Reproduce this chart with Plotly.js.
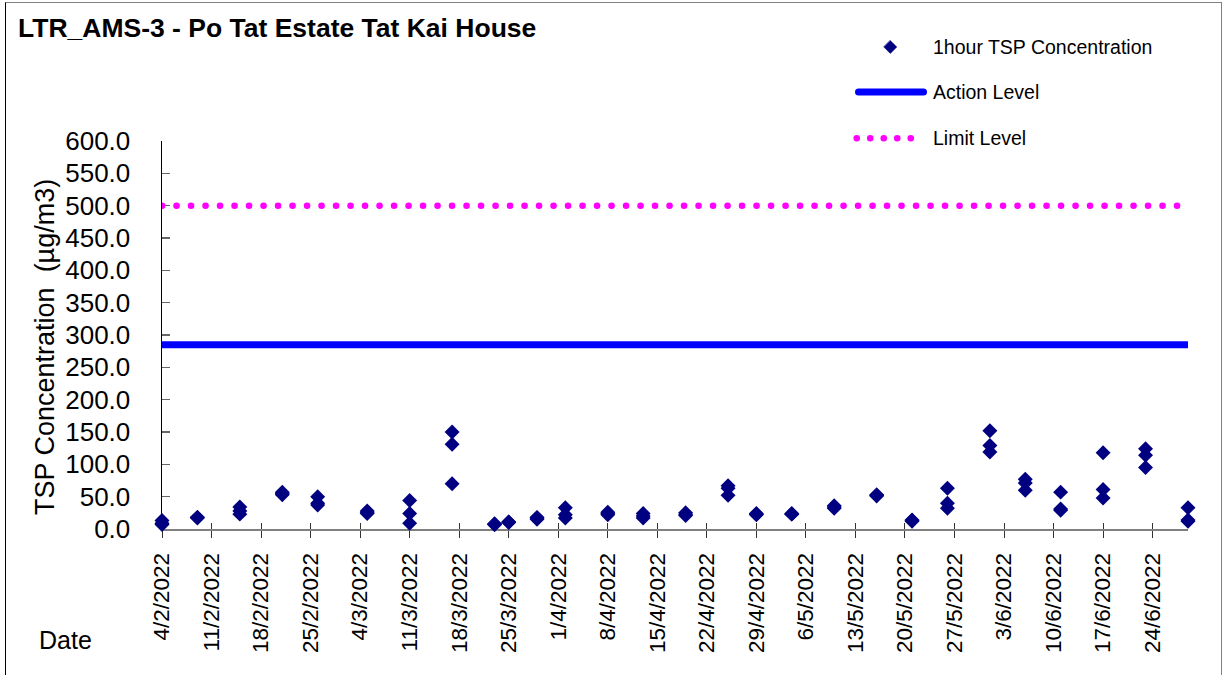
<!DOCTYPE html>
<html>
<head>
<meta charset="utf-8">
<script src="https://cdn.plot.ly/plotly-3.0.1.min.js"></script>
<style>
  html, body { margin: 0; padding: 0; background: #fff; }
  #chart { width: 1225px; height: 675px; position: relative; }
  #frame { position: absolute; left: 5px; top: 2px; width: 1217px; height: 700px;
           border-left: 1px solid #000; border-top: 1px solid #808080; border-right: 1px solid #808080;
           pointer-events: none; box-sizing: border-box; }
  .js-line { stroke-linecap: round !important; }
  .shapelayer path { stroke-linecap: round !important; }
</style>
</head>
<body>
<div id="chart"></div>
<div id="frame"></div>
<script>
// ---- data ----
const sampleDates = ['2022-02-04','2022-02-09','2022-02-15','2022-02-21','2022-02-26','2022-03-05','2022-03-11',
  '2022-03-17','2022-03-23','2022-03-25','2022-03-29','2022-04-02','2022-04-08','2022-04-13','2022-04-19',
  '2022-04-25','2022-04-29','2022-05-04','2022-05-10','2022-05-16','2022-05-21','2022-05-26','2022-06-01',
  '2022-06-06','2022-06-11','2022-06-17','2022-06-23','2022-06-29'];
const tspReading1 = [13,18,34,57,50,28,44,150,8,11,18,33,26,24,25,67,24,24,36,53,14,63,152,77,57,118,124,33];
const tspReading2 = [9,18,28,55,40,26,24,131,7,11,17,22,24,20,23,63,23,23,34,52,13,40,129,71,31,61,114,14];
const tspReading3 = [7,17,23,53,37,24,9,70,7,10,15,17,22,17,21,52,22,23,32,51,12,32,119,60,29,48,95,12];

const levelDates = ['2022-02-04','2022-06-29'];
const actionLevel = [285, 285];
const limitLevel = [500, 500];

const tickDates = ['2022-02-04','2022-02-11','2022-02-18','2022-02-25','2022-03-04','2022-03-11','2022-03-18',
  '2022-03-25','2022-04-01','2022-04-08','2022-04-15','2022-04-22','2022-04-29','2022-05-06','2022-05-13',
  '2022-05-20','2022-05-27','2022-06-03','2022-06-10','2022-06-17','2022-06-24'];
const tickLabels = ['4/2/2022','11/2/2022','18/2/2022','25/2/2022','4/3/2022','11/3/2022','18/3/2022',
  '25/3/2022','1/4/2022','8/4/2022','15/4/2022','22/4/2022','29/4/2022','6/5/2022','13/5/2022',
  '20/5/2022','27/5/2022','3/6/2022','10/6/2022','17/6/2022','24/6/2022'];

// ---- build ----
const ptX = [], ptY = [];
sampleDates.forEach((d, i) => {
  [tspReading1[i], tspReading2[i], tspReading3[i]].forEach(v => { ptX.push(d); ptY.push(v); });
});

const FONT = 'Arial, "Liberation Sans", sans-serif';
const L = 162, R = 37, T = 141, B = 146;
const PW = 1225 - L - R, PH = 675 - T - B;
const px = x => (x - L) / PW;
const py = y => (675 - B - y) / PH;

const traces = [
  { x: levelDates, y: limitLevel, mode: 'lines', name: 'Limit Level', hoverinfo: 'skip',
    line: { color: '#FF00FF', width: 6.5, dash: '0.1px,14.4px' } },
  { x: levelDates, y: actionLevel, mode: 'lines', name: 'Action Level', hoverinfo: 'skip',
    line: { color: '#0000FF', width: 7 } },
  { x: ptX, y: ptY, mode: 'markers', name: '1hour TSP Concentration', cliponaxis: false,
    marker: { symbol: 'diamond', size: 11.5, color: '#000080' } },
  { x: levelDates, y: actionLevel, xaxis: 'x2', mode: 'lines', opacity: 0, hoverinfo: 'skip',
    showlegend: false, line: { width: 0 } }
];

function diamond(cx, cy, r) {
  return `M${px(cx)},${py(cy - r)} L${px(cx + r)},${py(cy)} L${px(cx)},${py(cy + r)} L${px(cx - r)},${py(cy)} Z`;
}

const shapes = [
  { type: 'path', xref: 'paper', yref: 'paper', path: diamond(890.3, 47, 6.5),
    fillcolor: '#000080', line: { color: '#000080', width: 0.5 } },
  { type: 'line', xref: 'paper', yref: 'paper', x0: px(858.5), x1: px(923.5), y0: py(92), y1: py(92),
    line: { color: '#0000FF', width: 7 } },
  { type: 'line', xref: 'paper', yref: 'paper', x0: px(856.7), x1: px(910.8), y0: py(138.3), y1: py(138.3),
    line: { color: '#FF00FF', width: 6.5, dash: '0.1px,13.4px' } }
];

const annotations = [
  { text: '1hour TSP Concentration', x: px(931), y: py(47) },
  { text: 'Action Level', x: px(931), y: py(92) },
  { text: 'Limit Level', x: px(931), y: py(138) }
].map(a => Object.assign(a, { xref: 'paper', yref: 'paper', xanchor: 'left', yanchor: 'middle',
  showarrow: false, font: { family: FONT, size: 19.5, color: '#000' } }));

annotations.push({ text: 'TSP Concentration\u00a0 (µg/m3)', textangle: -90, xref: 'paper', yref: 'paper',
  x: px(45), y: py(347), xanchor: 'center', yanchor: 'middle', showarrow: false,
  font: { family: FONT, size: 27, color: '#000' } });
annotations.push({ text: 'Date', xref: 'paper', yref: 'paper', x: px(65), y: py(640),
  xanchor: 'center', yanchor: 'middle', showarrow: false, font: { family: FONT, size: 25, color: '#000' } });

const layout = {
  width: 1225, height: 675,
  margin: { l: L, r: R, t: T, b: B, pad: 0 },
  paper_bgcolor: '#fff', plot_bgcolor: '#fff',
  showlegend: false,
  font: { family: FONT, color: '#000' },
  title: { text: '<b>LTR_AMS-3 - Po Tat Estate Tat Kai House</b>', xref: 'container', yref: 'container',
    x: 18 / 1225, xanchor: 'left', y: 1 - 28 / 675, yanchor: 'middle',
    font: { family: FONT, size: 26.5, color: '#000' } },
  xaxis: {
    type: 'date', range: ['2022-02-04', '2022-06-29'], tickmode: 'array',
    tickvals: tickDates, ticktext: tickLabels, tickangle: -90,
    ticks: 'outside', ticklen: 7, tickwidth: 1, tickcolor: '#333',
    showline: true, linecolor: '#808080', linewidth: 2, showgrid: false, zeroline: false,
    tickfont: { family: FONT, size: 22.5, color: '#000' }, ticklabelstandoff: 6,
    layer: 'below traces', fixedrange: true
  },
  xaxis2: {
    type: 'date', overlaying: 'x', matches: 'x', anchor: 'y', tickmode: 'array', tickvals: tickDates,
    ticks: 'inside', ticklen: 6, tickwidth: 1, tickcolor: '#333', showticklabels: false,
    showline: false, showgrid: false, zeroline: false, layer: 'below traces'
  },
  yaxis: {
    range: [0, 600], tickmode: 'linear', tick0: 0, dtick: 50, tickformat: '.1f',
    ticks: 'inside', ticklen: 8, tickwidth: 1.5, tickcolor: '#666',
    showline: true, linecolor: '#000', linewidth: 1.5, showgrid: false, zeroline: false,
    tickfont: { family: FONT, size: 26, color: '#000' }, ticklabelstandoff: 25,
    layer: 'below traces', fixedrange: true
  },
  shapes: shapes,
  annotations: annotations
};

Plotly.newPlot('chart', traces, layout, { displayModeBar: false, staticPlot: true });
</script>
</body>
</html>
